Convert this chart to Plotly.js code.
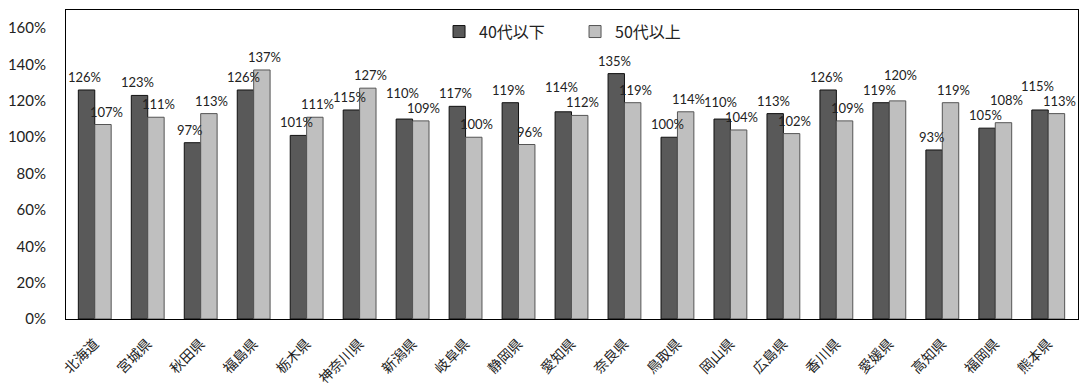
<!DOCTYPE html>
<html>
<head>
<meta charset="utf-8">
<script src="https://cdn.plot.ly/plotly-3.0.1.min.js"></script>
<style>html,body{margin:0;padding:0;background:#fff;}#chart{width:1086px;height:389px;}</style>
</head>
<body>
<div id="chart"></div>
<script>
const categories = ["北海道","宮城県","秋田県","福島県","栃木県","神奈川県","新潟県","岐阜県","静岡県","愛知県","奈良県","鳥取県","岡山県","広島県","香川県","愛媛県","高知県","福岡県","熊本県"];
const under40 = [1.26,1.23,0.97,1.26,1.01,1.15,1.10,1.17,1.19,1.14,1.35,1.00,1.10,1.13,1.26,1.19,0.93,1.05,1.15];
const over50 = [1.07,1.11,1.13,1.37,1.11,1.27,1.09,1.00,0.96,1.12,1.19,1.14,1.04,1.02,1.09,1.20,1.19,1.08,1.13];
const seriesNames = ["40代以下","50代以上"];
const yTickVals = [0,0.2,0.4,0.6,0.8,1.0,1.2,1.4,1.6];
const yTickText = ["0%","20%","40%","60%","80%","100%","120%","140%","160%"];

const W = 1086, H = 389;
const margin = {l:66, r:8, t:10, b:70};
const yMax = 1.7;
const bargap = 0.38;
const plotW = W - margin.l - margin.r, plotH = H - margin.t - margin.b;
const catW = plotW / categories.length;
const barW = catW * (1 - bargap) / 2;
const pxPerUnit = plotH / yMax;

const numFont = {family:"Lato, Open Sans, sans-serif", size:13, color:"#222"};
const pct = v => Math.round(v*100) + "%";

// data labels placed above bars (Excel-like outside end), nudged apart when a pair is close
const annotations = [];
const baseGap = 13, minSep = 15;
categories.forEach((c, i) => {
  const a = under40[i], b = over50[i];
  let ya = a*pxPerUnit + baseGap, yb = b*pxPerUnit + baseGap;
  if (Math.abs(ya - yb) < minSep) {
    if (ya >= yb) ya = yb + minSep; else yb = ya + minSep;
  }
  annotations.push({x:c, y:a, xref:"x", yref:"y", text:pct(a), showarrow:false, font:numFont,
    xanchor:"center", yanchor:"middle", xshift:-barW/2 - 2, yshift:ya - a*pxPerUnit});
  annotations.push({x:c, y:b, xref:"x", yref:"y", text:pct(b), showarrow:false, font:numFont,
    xanchor:"center", yanchor:"middle", xshift:barW/2 + 3, yshift:yb - b*pxPerUnit});
});

const traces = [
  {type:"bar", name:seriesNames[0], x:categories, y:under40,
   marker:{color:"#595959", line:{color:"#111", width:1}}, hoverinfo:"x+y"},
  {type:"bar", name:seriesNames[1], x:categories, y:over50,
   marker:{color:"#bfbfbf", line:{color:"#555", width:1}}, hoverinfo:"x+y"}
];
const layout = {
  width:W, height:H, margin:margin,
  paper_bgcolor:"#fff", plot_bgcolor:"#fff",
  barmode:"group", bargap:bargap, bargroupgap:0,
  showlegend:true,
  legend:{orientation:"h", x:0.503, xanchor:"center", y:0.985, yanchor:"top",
    font:{family:"Noto Sans CJK JP, sans-serif", size:16, color:"#222"},
    itemwidth:30, entrywidth:91, entrywidthmode:"pixels", traceorder:"normal"},
  annotations:annotations,
  xaxis:{type:"category", tickangle:-45, showline:true, mirror:true, linecolor:"#000", linewidth:1,
    ticks:"", showgrid:false, tickfont:{family:"Noto Sans CJK JP, sans-serif", size:14, color:"#222"}, ticklabelstandoff:10},
  yaxis:{range:[0,yMax], tickvals:yTickVals, ticktext:yTickText, showline:true, mirror:true, linecolor:"#000", linewidth:1,
    ticks:"", showgrid:false, zeroline:false, tickfont:{family:"Lato, Open Sans, sans-serif", size:15, color:"#222"}, ticklabelstandoff:16}
};
Plotly.newPlot("chart", traces, layout, {displayModeBar:false, staticPlot:true});
</script>
</body>
</html>
